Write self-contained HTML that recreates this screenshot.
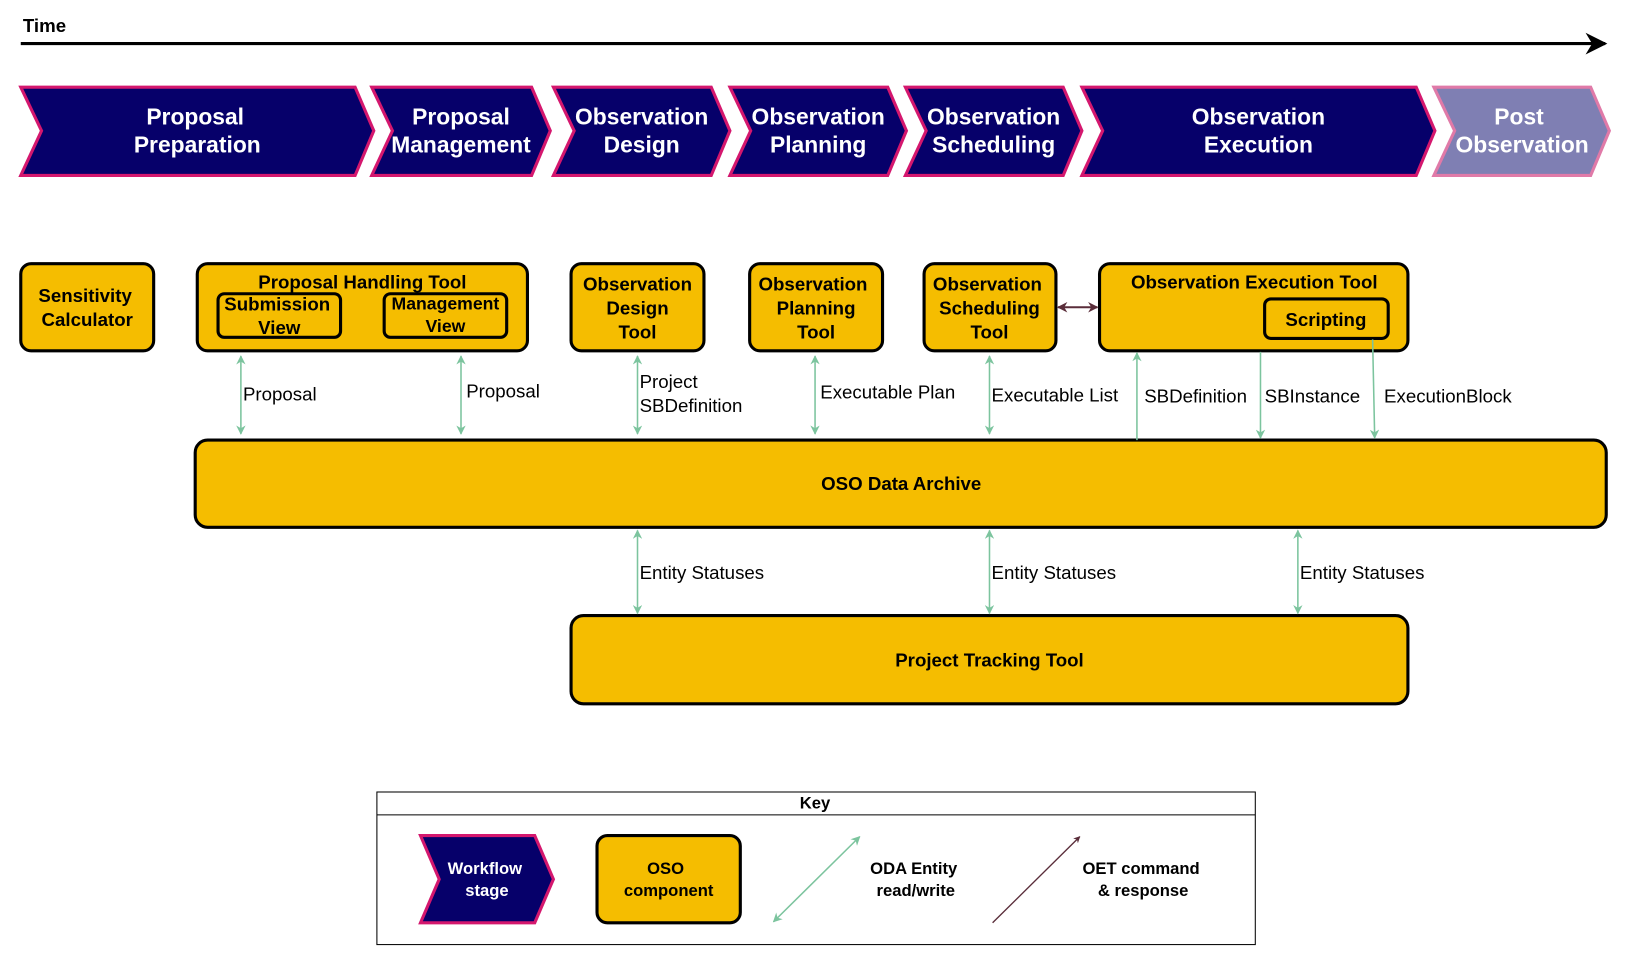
<!DOCTYPE html>
<html><head><meta charset="utf-8"><style>html,body{margin:0;padding:0;background:#fff}svg{display:block}</style></head>
<body>
<svg width="1627" height="956" viewBox="0 0 1567 921" preserveAspectRatio="none" xmlns="http://www.w3.org/2000/svg" font-family="Liberation Sans, sans-serif">
<defs>
<marker id="ab" viewBox="0 0 10 10" refX="9" refY="5" markerWidth="7" markerHeight="7" orient="auto-start-reverse"><path d="M0,0 L10,5 L0,10 L3,5 z" fill="#000"/></marker>
<marker id="ag" viewBox="0 0 10 10" refX="9" refY="5" markerWidth="6" markerHeight="6" orient="auto-start-reverse"><path d="M0,0 L10,5 L0,10 L3,5 z" fill="#7cc49e"/></marker>
<marker id="ar" viewBox="0 0 10 10" refX="9" refY="5" markerWidth="5" markerHeight="5" orient="auto-start-reverse"><path d="M0,0 L10,5 L0,10 L3,5 z" fill="#5a2d3a"/></marker>
</defs>
<text x="22" y="31" font-size="18" font-weight="bold">Time</text>
<line x1="20" y1="42" x2="1546" y2="42" stroke="#000" stroke-width="3" marker-end="url(#ab)"/>
<g stroke="#d4176e" stroke-width="3" fill="#06006a">
<polygon points="20,84 342,84 360,126 342,169 20,169 40,126"/>
<polygon points="358,84 512,84 530,126 512,169 358,169 378,126"/>
<polygon points="533,84 685,84 703,126 685,169 533,169 553,126"/>
<polygon points="703,84 855,84 873,126 855,169 703,169 723,126"/>
<polygon points="872,84 1024,84 1042,126 1024,169 872,169 892,126"/>
<polygon points="1042,84 1364,84 1382,126 1364,169 1042,169 1062,126"/>
<polygon points="1381,84 1532,84 1550,126 1532,169 1381,169 1401,126" fill="#7f7fb3" stroke="#e07aa8"/>
</g>
<g fill="#fff" font-size="22" font-weight="bold" text-anchor="middle">
<text x="188" y="120">Proposal</text><text x="190" y="147">Preparation</text>
<text x="444" y="120">Proposal</text><text x="444" y="147">Management</text>
<text x="618" y="120">Observation</text><text x="618" y="147">Design</text>
<text x="788" y="120">Observation</text><text x="788" y="147">Planning</text>
<text x="957" y="120">Observation</text><text x="957" y="147">Scheduling</text>
<text x="1212" y="120">Observation</text><text x="1212" y="147">Execution</text>
<text x="1463" y="120">Post</text><text x="1466" y="147">Observation</text>
</g>
<g fill="#f5bd00" stroke="#000" stroke-width="3">
<rect x="20" y="254" width="128" height="84" rx="10"/>
<rect x="190" y="254" width="318" height="84" rx="10"/>
<rect x="210" y="283" width="118" height="42" rx="6"/>
<rect x="370" y="283" width="118" height="42" rx="6"/>
<rect x="550" y="254" width="128" height="84" rx="10"/>
<rect x="722" y="254" width="128" height="84" rx="10"/>
<rect x="890" y="254" width="127" height="84" rx="10"/>
<rect x="1059" y="254" width="297" height="84" rx="10"/>
<rect x="1218" y="288" width="119" height="38" rx="6"/>
<rect x="188" y="424" width="1359" height="84" rx="12"/>
<rect x="550" y="593" width="806" height="85" rx="12"/>
</g>
<g font-size="18" font-weight="bold" text-anchor="middle">
<text x="82" y="291">Sensitivity</text><text x="84" y="314">Calculator</text>
<text x="349" y="278">Proposal Handling Tool</text>
<text x="267" y="299">Submission</text><text x="269" y="322">View</text>
<text x="429" y="298" font-size="17">Management</text><text x="429" y="320" font-size="17">View</text>
<text x="614" y="280">Observation</text><text x="614" y="303">Design</text><text x="614" y="326">Tool</text>
<text x="783" y="280">Observation</text><text x="786" y="303">Planning</text><text x="786" y="326">Tool</text>
<text x="951" y="280">Observation</text><text x="953" y="303">Scheduling</text><text x="953" y="326">Tool</text>
<text x="1208" y="278">Observation Execution Tool</text>
<text x="1277" y="314">Scripting</text>
<text x="868" y="472">OSO Data Archive</text>
<text x="953" y="642">Project Tracking Tool</text>
</g>
<g stroke="#7cc49e" stroke-width="1.5" fill="none">
<line x1="232" y1="343" x2="232" y2="418" marker-start="url(#ag)" marker-end="url(#ag)"/>
<line x1="444" y1="343" x2="444" y2="418" marker-start="url(#ag)" marker-end="url(#ag)"/>
<line x1="614" y1="343" x2="614" y2="418" marker-start="url(#ag)" marker-end="url(#ag)"/>
<line x1="785" y1="343" x2="785" y2="418" marker-start="url(#ag)" marker-end="url(#ag)"/>
<line x1="953" y1="343" x2="953" y2="418" marker-start="url(#ag)" marker-end="url(#ag)"/>
<line x1="1095" y1="424" x2="1095" y2="340" marker-end="url(#ag)"/>
<line x1="1214" y1="339" x2="1214" y2="422" marker-end="url(#ag)"/>
<line x1="1322" y1="327" x2="1324" y2="422" marker-end="url(#ag)"/>
<line x1="614" y1="511" x2="614" y2="591" marker-start="url(#ag)" marker-end="url(#ag)"/>
<line x1="953" y1="511" x2="953" y2="591" marker-start="url(#ag)" marker-end="url(#ag)"/>
<line x1="1250" y1="511" x2="1250" y2="591" marker-start="url(#ag)" marker-end="url(#ag)"/>
<line x1="745" y1="888" x2="828" y2="806" marker-start="url(#ag)" marker-end="url(#ag)"/>
</g>
<g stroke="#5a2d3a" stroke-width="2">
<line x1="1019" y1="296" x2="1057" y2="296" marker-start="url(#ar)" marker-end="url(#ar)"/>
<line x1="956" y1="889" x2="1040" y2="806" stroke-width="1.3" marker-end="url(#ar)"/>
</g>
<g font-size="18">
<text x="234" y="386">Proposal</text>
<text x="449" y="383">Proposal</text>
<text x="616" y="374">Project</text><text x="616" y="397">SBDefinition</text>
<text x="790" y="384">Executable Plan</text>
<text x="955" y="387">Executable List</text>
<text x="1102" y="388">SBDefinition</text>
<text x="1218" y="388">SBInstance</text>
<text x="1333" y="388">ExecutionBlock</text>
<text x="616" y="558">Entity Statuses</text>
<text x="955" y="558">Entity Statuses</text>
<text x="1252" y="558">Entity Statuses</text>
</g>
<rect x="363" y="763" width="846" height="147" fill="none" stroke="#000" stroke-width="1"/>
<line x1="363" y1="785" x2="1209" y2="785" stroke="#000" stroke-width="1"/>
<text x="785" y="779" font-size="16" font-weight="bold" text-anchor="middle">Key</text>
<polygon points="405,805 515,805 533,847 515,889 405,889 423,847" fill="#06006a" stroke="#d4176e" stroke-width="3"/>
<rect x="575" y="805" width="138" height="84" rx="10" fill="#f5bd00" stroke="#000" stroke-width="3"/>
<g font-size="16" font-weight="bold" text-anchor="middle">
<text x="467" y="842" fill="#fff">Workflow</text><text x="469" y="863" fill="#fff">stage</text>
<text x="641" y="842">OSO</text><text x="644" y="863">component</text>
<text x="880" y="842">ODA Entity</text><text x="882" y="863">read/write</text>
<text x="1099" y="842">OET command</text><text x="1101" y="863">&amp; response</text>
</g>
</svg>
</body></html>
